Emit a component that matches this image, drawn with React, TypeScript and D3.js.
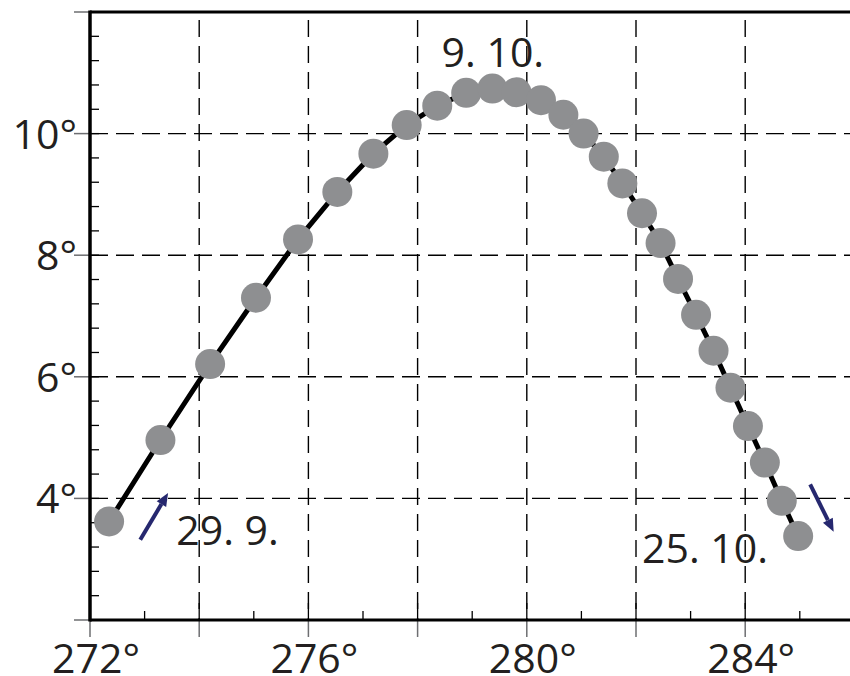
import * as React from 'react';
import * as d3 from 'd3';

// azimuth (x) and altitude (y) of each daily position, 29. 9. -> 25. 10.
const AZIMUTH = [
    272.35, 273.29, 274.2, 275.04, 275.81, 276.53, 277.19, 277.8, 278.36, 278.89,
    279.37, 279.81, 280.26, 280.67, 281.04, 281.41, 281.75, 282.11, 282.45, 282.77,
    283.1, 283.42, 283.73, 284.05, 284.36, 284.67, 284.97
];
const ALTITUDE = [
    3.62, 4.96, 6.21, 7.3, 8.26, 9.04, 9.67, 10.14, 10.46, 10.67,
    10.74, 10.68, 10.55, 10.31, 10.0, 9.62, 9.18, 8.69, 8.2, 7.61,
    7.02, 6.43, 5.82, 5.19, 4.59, 3.96, 3.38
];

const X_TICKS = [272, 276, 280, 284];
const Y_TICKS = [4, 6, 8, 10];
const X_GRID = [274, 276, 278, 280, 282, 284];
const Y_MAJOR = [2, 4, 6, 8, 10, 12];

// date labels: [text, azimuth, altitude]
const LABELS: [string, number, number][] = [
    ['29. 9.', 273.58, 3.23],
    ['9. 10.', 278.44, 11.09],
    ['25. 10.', 282.11, 2.93]
];
// direction arrows: [x0, y0, x1, y1]
const ARROWS: [number, number, number, number][] = [
    [272.92, 3.32, 273.43, 4.09],
    [285.19, 4.23, 285.62, 3.45]
];

const FONT = '"Open Sans", sans-serif';
const TEXT_COLOR = '#231f20';
const DOT_COLOR = '#8e8f91';
const ARROW_COLOR = '#26286f';
const TICK_GRAY = '#6d6e71';

export default function App() {
    const svgRef = React.useRef<SVGSVGElement>(null);

    React.useEffect(() => {
        const svg = d3.select(svgRef.current);
        svg.selectAll('*').remove();

        const W = 850;
        const H = 676;
        const LEFT = 90;
        const BOTTOM = 620;
        const TOP = 12;

        const x = d3.scaleLinear().domain([272, 286]).range([LEFT, LEFT + 14 * 54.6]);
        const y = d3.scaleLinear().domain([2, 12]).range([BOTTOM, TOP]);

        /** ******** Grid ********* */
        const grid = svg.append('g');
        grid.selectAll('line.vg')
            .data(X_GRID)
            .enter()
            .append('line')
            .attr('x1', d => x(d))
            .attr('x2', d => x(d))
            .attr('y1', TOP + 8)
            .attr('y2', BOTTOM)
            .attr('stroke', '#000')
            .attr('stroke-width', 1.4)
            .attr('stroke-dasharray', '17 9');
        grid.selectAll('line.hg')
            .data(Y_TICKS)
            .enter()
            .append('line')
            .attr('x1', LEFT)
            .attr('x2', W)
            .attr('y1', d => y(d))
            .attr('y2', d => y(d))
            .attr('stroke', '#000')
            .attr('stroke-width', 1.4)
            .attr('stroke-dasharray', '18 8');

        /** ******** Ticks ********* */
        const ticks = svg.append('g');
        // y minor ticks, inside
        ticks.selectAll('line.ym')
            .data(d3.range(0, 26).map(i => 2 + i * 0.4))
            .enter()
            .append('line')
            .attr('x1', LEFT)
            .attr('x2', LEFT + 9)
            .attr('y1', d => y(d))
            .attr('y2', d => y(d))
            .attr('stroke', '#000')
            .attr('stroke-width', 1.3);
        // y major ticks, outside
        ticks.selectAll('line.yM')
            .data(Y_MAJOR)
            .enter()
            .append('line')
            .attr('x1', LEFT - 16)
            .attr('x2', LEFT)
            .attr('y1', d => y(d))
            .attr('y2', d => y(d))
            .attr('stroke', TICK_GRAY)
            .attr('stroke-width', 1.5);
        // x ticks inside
        ticks.selectAll('line.xm')
            .data(d3.range(273, 286))
            .enter()
            .append('line')
            .attr('x1', d => x(d))
            .attr('x2', d => x(d))
            .attr('y1', BOTTOM)
            .attr('y2', d => (d % 2 === 0 ? BOTTOM - 17 : BOTTOM - 9))
            .attr('stroke', '#000')
            .attr('stroke-width', 1.3);
        // x ticks outside
        ticks.selectAll('line.xM')
            .data(d3.range(272, 286, 2))
            .enter()
            .append('line')
            .attr('x1', d => x(d))
            .attr('x2', d => x(d))
            .attr('y1', BOTTOM)
            .attr('y2', BOTTOM + 17)
            .attr('stroke', TICK_GRAY)
            .attr('stroke-width', 1.5);

        /** ******** Frame ********* */
        svg.append('line')
            .attr('x1', LEFT).attr('x2', W)
            .attr('y1', TOP).attr('y2', TOP)
            .attr('stroke', '#000').attr('stroke-width', 3);
        svg.append('line')
            .attr('x1', LEFT).attr('x2', W)
            .attr('y1', BOTTOM).attr('y2', BOTTOM)
            .attr('stroke', '#000').attr('stroke-width', 3);
        svg.append('line')
            .attr('x1', LEFT).attr('x2', LEFT)
            .attr('y1', TOP - 1.5).attr('y2', BOTTOM + 1.5)
            .attr('stroke', '#000').attr('stroke-width', 3.5);

        /** ******** Tick labels ********* */
        svg.selectAll('text.xl')
            .data(X_TICKS)
            .enter()
            .append('text')
            .attr('x', d => x(d) + 6)
            .attr('y', 673)
            .attr('text-anchor', 'middle')
            .attr('font-family', FONT)
            .attr('font-size', 41)
            .attr('fill', TEXT_COLOR)
            .text(d => `${d}°`);
        svg.selectAll('text.yl')
            .data(Y_TICKS)
            .enter()
            .append('text')
            .attr('x', 77)
            .attr('y', d => y(d) + 15)
            .attr('text-anchor', 'end')
            .attr('font-family', FONT)
            .attr('font-size', 41)
            .attr('fill', TEXT_COLOR)
            .text(d => `${d}°`);

        /** ******** Path + dots ********* */
        const pts = AZIMUTH.map((a, i) => [a, ALTITUDE[i]] as [number, number]);
        const line = d3.line<[number, number]>()
            .x(d => x(d[0]))
            .y(d => y(d[1]));
        svg.append('path')
            .datum(pts)
            .attr('d', line)
            .attr('fill', 'none')
            .attr('stroke', '#000')
            .attr('stroke-width', 5);
        svg.selectAll('circle')
            .data(pts)
            .enter()
            .append('circle')
            .attr('cx', d => x(d[0]))
            .attr('cy', d => y(d[1]))
            .attr('r', 15)
            .attr('fill', DOT_COLOR);

        /** ******** Arrows ********* */
        ARROWS.forEach(([ax0, ay0, ax1, ay1]) => {
            const x0 = x(ax0), y0 = y(ay0), x1 = x(ax1), y1 = y(ay1);
            const ang = Math.atan2(y1 - y0, x1 - x0);
            const HEAD = 13;
            const HALF = 5.5;
            const bx = x1 - HEAD * Math.cos(ang);
            const by = y1 - HEAD * Math.sin(ang);
            svg.append('line')
                .attr('x1', x0).attr('y1', y0)
                .attr('x2', bx).attr('y2', by)
                .attr('stroke', ARROW_COLOR)
                .attr('stroke-width', 4);
            const px = -Math.sin(ang) * HALF;
            const py = Math.cos(ang) * HALF;
            svg.append('polygon')
                .attr('points', `${x1},${y1} ${bx + px},${by + py} ${bx - px},${by - py}`)
                .attr('fill', ARROW_COLOR);
        });

        /** ******** Date labels ********* */
        svg.selectAll('text.dl')
            .data(LABELS)
            .enter()
            .append('text')
            .attr('x', d => x(d[1]))
            .attr('y', d => y(d[2]))
            .attr('font-family', FONT)
            .attr('font-size', 41)
            .attr('fill', TEXT_COLOR)
            .text(d => d[0]);

        svg.attr('width', W).attr('height', H);
    }, []);

    return (
        <svg
            ref={svgRef}
            width={850}
            height={676}
            style={{ position: 'absolute', left: 0, top: 0, background: '#fff' }}
        />
    );
}
